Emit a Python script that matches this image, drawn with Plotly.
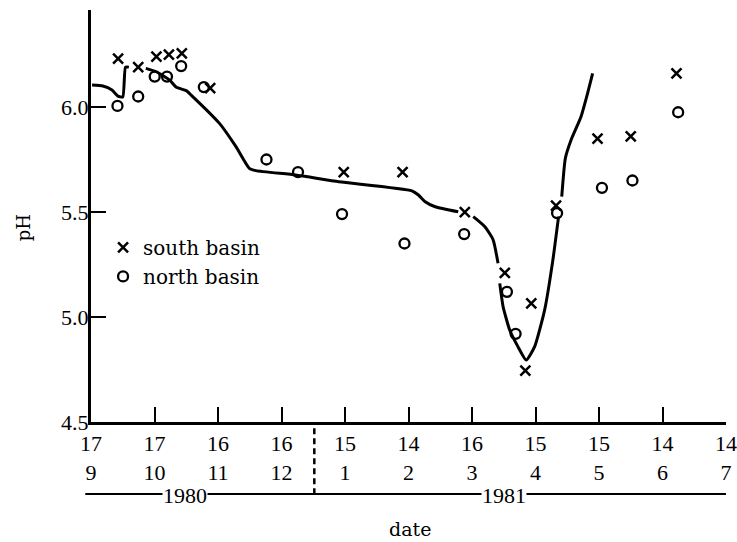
import plotly.graph_objects as go

# ---- data (x = days since 17 Sep 1980) ----
south_days = [12.8, 22.3, 30.9, 36.8, 42.9, 56.3, 119.4, 147.2, 176.6, 195.5,
              205.2, 208.0, 219.7, 239.3, 255.0, 276.6]
south_ph = [6.23, 6.19, 6.24, 6.25, 6.255, 6.09, 5.69, 5.69, 5.50, 5.21,
            4.745, 5.065, 5.53, 5.85, 5.86, 6.16]

north_days = [12.5, 22.3, 30.1, 35.9, 42.6, 53.3, 82.9, 97.8, 118.6, 148.1,
              176.3, 196.5, 200.6, 220.2, 241.4, 255.8, 277.4]
north_ph = [6.005, 6.05, 6.145, 6.145, 6.195, 6.095, 5.75, 5.69, 5.49, 5.35,
            5.395, 5.12, 4.92, 5.495, 5.615, 5.65, 5.975]

# hand-drawn trend curve, drawn in separate pieces
trend_a_days = [0.5, 5.6, 9.9, 12.7, 15.0, 16.3, 17.9]
trend_a_ph = [6.105, 6.10, 6.081, 6.052, 6.048, 6.19, 6.19]
trend_b_days = [25.9, 30.9, 37.1, 40.3, 45.0, 47.3, 60.7, 68.5, 74.8, 77.9,
                96.7, 117.1, 151.6, 154.7, 157.9, 162.6, 173.5]
trend_b_ph = [6.184, 6.168, 6.129, 6.094, 6.078, 6.057, 5.922, 5.811, 5.708, 5.697,
              5.676, 5.644, 5.601, 5.581, 5.549, 5.525, 5.501]
trend_c_days = [180.6, 186.1, 190.0, 192.3]
trend_c_ph = [5.478, 5.43, 5.367, 5.256]
trend_d_days = [193.1, 194.7, 197.8, 201.7, 205.6, 209.6, 214.3, 218.2, 220.9]
trend_d_ph = [5.16, 5.049, 4.938, 4.859, 4.795, 4.859, 5.033, 5.271, 5.478]
trend_e_days = [222.4, 224.1, 226.8, 231.5, 234.6, 237.0]
trend_e_ph = [5.573, 5.756, 5.843, 5.954, 6.065, 6.16]

tick_days = [0, 30, 60, 90, 120, 150, 180, 210, 240, 270, 300]
tick_day_labels = ["17", "17", "16", "16", "15", "14", "16", "15", "15", "14", "14"]
tick_month_labels = ["9", "10", "11", "12", "1", "2", "3", "4", "5", "6", "7"]
year_boundary_day = 105.5
y_ticks = [4.5, 5.0, 5.5, 6.0]

NUM_FONT = "Liberation Serif"
TXT_FONT = "DejaVu Serif"

fig = go.Figure()

segments = [(trend_a_days, trend_a_ph), (trend_b_days, trend_b_ph),
            (trend_c_days, trend_c_ph), (trend_d_days, trend_d_ph),
            (trend_e_days, trend_e_ph)]
for sx, sy in segments:
    fig.add_trace(go.Scatter(x=sx, y=sy, mode="lines",
                             line=dict(color="black", width=3, shape="spline", smoothing=0.5),
                             showlegend=False, hoverinfo="skip"))

fig.add_trace(go.Scatter(x=south_days, y=south_ph, mode="markers", name="south basin",
                         marker=dict(symbol="x-thin-open", size=10,
                                     line=dict(color="black", width=2.5), color="black")))
fig.add_trace(go.Scatter(x=north_days, y=north_ph, mode="markers", name="north basin",
                         marker=dict(symbol="circle-open", size=10,
                                     line=dict(color="black", width=2.3), color="black")))

ticktext = [f"{d}<br>{m}" for d, m in zip(tick_day_labels, tick_month_labels)]

fig.update_layout(
    width=737, height=542,
    margin=dict(l=91, r=11, t=10, b=120),
    paper_bgcolor="white", plot_bgcolor="white",
    xaxis=dict(range=[0, 300], tickmode="array", tickvals=tick_days, ticktext=ticktext,
               ticks="inside", ticklen=15, tickwidth=2, tickcolor="black",
               showline=True, linewidth=3, linecolor="black", showgrid=False, zeroline=False,
               automargin=False, ticklabeloverflow="allow",
               tickfont=dict(family=NUM_FONT, size=22, color="black")),
    yaxis=dict(range=[4.5, 6.462], tickmode="array", tickvals=y_ticks,
               ticktext=[f"{v:.1f}" for v in y_ticks],
               ticks="inside", ticklen=15, tickwidth=2, tickcolor="black",
               showline=True, linewidth=3, linecolor="black", showgrid=False, zeroline=False,
               automargin=False, ticklabelstandoff=-5,
               tickfont=dict(family=NUM_FONT, size=22, color="black")),
    legend=dict(x=0.019, y=0.471, xanchor="left", yanchor="top",
                bgcolor="rgba(0,0,0,0)", borderwidth=0,
                font=dict(family=TXT_FONT, size=20, color="black"),
                itemwidth=30, tracegroupgap=0),
    showlegend=True,
    hovermode=False,
)

# year boundary (dashed) and year bars
fig.add_shape(type="line", xref="x", yref="paper", x0=year_boundary_day, x1=year_boundary_day,
              y0=-0.015, y1=-0.177, line=dict(color="black", width=2.5, dash="6px,4px"))
fig.add_shape(type="line", xref="paper", yref="paper", x0=-0.009, x1=1.0,
              y0=-0.1748, y1=-0.1748, line=dict(color="black", width=2))

for txt, xp in [("1980", 0.1473), ("1981", 0.6505)]:
    fig.add_annotation(text=txt, xref="paper", yref="paper", x=xp, y=-0.1796,
                       xanchor="center", yanchor="middle",
                       showarrow=False, bgcolor="white", borderpad=0,
                       font=dict(family=NUM_FONT, size=22, color="black"))

fig.add_annotation(text="date", xref="paper", yref="paper", x=0.5016, y=-0.2888,
                   xanchor="center", yanchor="bottom", borderpad=0,
                   showarrow=False, font=dict(family=TXT_FONT, size=19, color="black"))
fig.add_annotation(text="pH", xref="paper", yref="paper", x=-0.105, y=0.471,
                   xanchor="center", yanchor="middle",
                   textangle=-90, showarrow=False,
                   font=dict(family=TXT_FONT, size=18, color="black"))

fig.write_html("out.html", config={"displayModeBar": False},
               post_script="document.body.style.margin='0px';")
